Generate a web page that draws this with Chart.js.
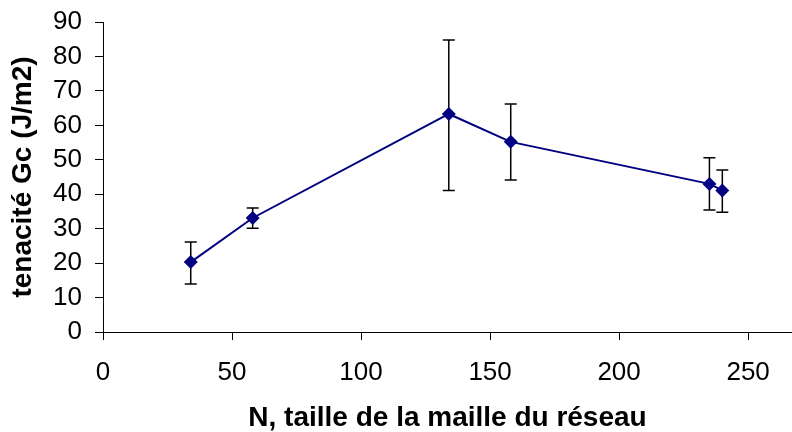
<!DOCTYPE html>
<html>
<head>
<meta charset="utf-8">
<script src="https://cdn.jsdelivr.net/npm/chart.js@4"></script>
<style>
  html, body { margin: 0; padding: 0; background: #fff; }
  #wrap { width: 792px; height: 432px; }
</style>
</head>
<body>
<div id="wrap"><canvas id="myChart" width="792" height="432"></canvas></div>
<script>
// mesh size N and toughness Gc, with error bar ends
const meshSize = [34, 58, 134, 158, 235, 240];
const toughness = [20.3, 33.1, 63.3, 55.2, 43.0, 41.1];
const errHigh = [26.1, 36.0, 84.8, 66.2, 50.6, 47.0];
const errLow = [13.9, 30.1, 41.1, 44.1, 35.4, 34.8];
const xTicks = [0, 50, 100, 150, 200, 250];

const FONT = "'Liberation Sans', Arial, sans-serif";
const ctx = document.getElementById('myChart');

// error bars drawn under the markers
const errorBars = {
    id: 'errorBars',
    beforeDatasetsDraw(chart) {
        const c = chart.ctx;
        const xs = chart.scales.x, ys = chart.scales.y;
        c.save();
        c.strokeStyle = '#000';
        c.lineWidth = 1.5;
        meshSize.forEach((n, i) => {
            const px = xs.getPixelForValue(n);
            const top = ys.getPixelForValue(errHigh[i]);
            const bot = ys.getPixelForValue(errLow[i]);
            c.beginPath();
            c.moveTo(px, top); c.lineTo(px, bot);
            c.moveTo(px - 6, top); c.lineTo(px + 6, top);
            c.moveTo(px - 6, bot); c.lineTo(px + 6, bot);
            c.stroke();
        });
        c.restore();
    }
};

const points = meshSize.map((n, i) => ({ x: n, y: toughness[i] }));

new Chart(ctx, {
    type: 'scatter',
    data: {
        datasets: [{
            data: points,
            showLine: true,
            borderColor: '#000080',
            borderWidth: 2,
            backgroundColor: '#000080',
            pointStyle: 'rectRot',
            pointRadius: 7,
            pointBorderWidth: 0
        }]
    },
    options: {
        responsive: false,
        animation: false,
        layout: { autoPadding: false, padding: { top: 22, right: 0, bottom: 0, left: 0 } },
        plugins: { legend: { display: false }, tooltip: { enabled: false } },
        scales: {
            x: {
                type: 'linear',
                min: 0,
                max: 267,
                afterBuildTicks: (axis) => { axis.ticks = xTicks.map(v => ({ value: v })); },
                afterFit: (axis) => { axis.height = 100; axis.paddingLeft = 0; axis.paddingRight = 0; },
                grid: { drawOnChartArea: false, drawTicks: true, tickLength: 8, color: '#000' },
                border: { display: true, color: '#000', width: 1 },
                ticks: { color: '#000', padding: 17, maxRotation: 0, autoSkip: false, font: { family: FONT, size: 26 } },
                title: {
                    display: true,
                    text: 'N, taille de la maille du réseau',
                    color: '#000',
                    padding: { top: 0, bottom: 0 },
                    font: { family: FONT, size: 28, weight: 'bold', lineHeight: 1 }
                }
            },
            y: {
                min: 0,
                max: 90,
                afterFit: (axis) => { axis.width = 103; axis.paddingTop = 0; axis.paddingBottom = 0; },
                grid: { drawOnChartArea: false, drawTicks: true, tickLength: 8, color: '#000' },
                border: { display: true, color: '#000', width: 1 },
                ticks: { stepSize: 10, color: '#000', padding: 13, autoSkip: false, font: { family: FONT, size: 26 } },
                title: {
                    display: true,
                    text: 'tenacité Gc (J/m2)',
                    color: '#000',
                    padding: { top: 9, bottom: 0 },
                    font: { family: FONT, size: 28, weight: 'bold', lineHeight: 1 }
                }
            }
        }
    },
    plugins: [errorBars]
});
</script>
</body>
</html>
